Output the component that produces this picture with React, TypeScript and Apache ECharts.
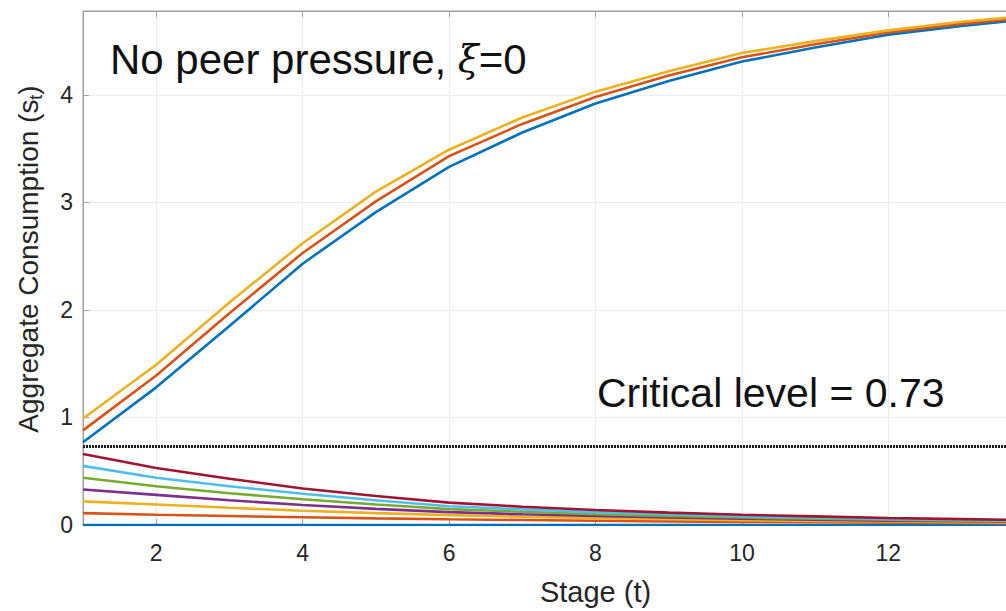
import React, { useEffect, useRef } from "react";
import * as echarts from "echarts";

const stages = [1, 2, 3, 4, 5, 6, 7, 8, 9, 10, 11, 12, 13, 14, 15];
const criticalLevel = 0.73;
const lastShownTick = 12;

const s0 = [0, 0, 0, 0, 0, 0, 0, 0, 0, 0, 0, 0, 0, 0, 0];
const s1 = [0.11, 0.095, 0.083, 0.072, 0.062, 0.053, 0.046, 0.04, 0.034, 0.029, 0.025, 0.021, 0.018, 0.016, 0.014];
const s2 = [0.22, 0.19, 0.16, 0.133, 0.11, 0.092, 0.077, 0.064, 0.054, 0.045, 0.038, 0.032, 0.027, 0.023, 0.02];
const s3 = [0.33, 0.28, 0.23, 0.186, 0.15, 0.12, 0.1, 0.085, 0.07, 0.058, 0.049, 0.041, 0.035, 0.03, 0.026];
const s4 = [0.44, 0.36, 0.295, 0.24, 0.19, 0.148, 0.123, 0.1, 0.085, 0.07, 0.058, 0.049, 0.041, 0.035, 0.03];
const s5 = [0.55, 0.44, 0.36, 0.29, 0.23, 0.175, 0.145, 0.12, 0.1, 0.082, 0.068, 0.057, 0.048, 0.04, 0.034];
const s6 = [0.66, 0.53, 0.43, 0.34, 0.27, 0.208, 0.17, 0.14, 0.115, 0.095, 0.08, 0.065, 0.055, 0.045, 0.038];
const s7 = [0.77, 1.28, 1.85, 2.43, 2.91, 3.33, 3.65, 3.92, 4.13, 4.31, 4.44, 4.56, 4.64, 4.71, 4.76];
const s8 = [0.88, 1.39, 1.97, 2.53, 3.01, 3.43, 3.73, 3.98, 4.18, 4.35, 4.47, 4.58, 4.66, 4.725, 4.77];
const s9 = [0.99, 1.49, 2.07, 2.62, 3.1, 3.49, 3.79, 4.03, 4.22, 4.39, 4.5, 4.6, 4.68, 4.74, 4.78];

const seriesValues = [s0, s1, s2, s3, s4, s5, s6, s7, s8, s9];
const colors = ["#0072BD", "#D95319", "#EDB120", "#7E2F8E", "#77AC30", "#4DBEEE", "#A2142F", "#0072BD", "#D95319", "#EDB120"];

export default function App() {
  const ref = useRef<HTMLDivElement>(null);
  useEffect(() => {
    if (!ref.current) return;
    const chart = echarts.init(ref.current, undefined, { renderer: "svg" });
    const lineSeries = seriesValues.map((vals, i) => ({
      type: "line",
      data: stages.map((s, j) => [s, vals[j]]),
      showSymbol: false,
      symbol: "none",
      lineStyle: { color: colors[i], width: 2.6 },
      z: 3,
    }));
    const critical = {
      type: "line",
      data: [
        [stages[0], criticalLevel],
        [stages[stages.length - 1], criticalLevel],
      ],
      symbol: "none",
      lineStyle: { color: "#1a1a1a", width: 2.8, type: [2, 1] },
      z: 4,
    };
    const axisColor = "#a0a0a0";
    const font = "Liberation Sans, Arial";
    chart.setOption({
      animation: false,
      backgroundColor: "#ffffff",
      grid: {
        left: 83,
        top: 11,
        right: -102,
        bottom: 86,
        show: true,
        borderColor: axisColor,
        borderWidth: 1,
        containLabel: false,
        outerBoundsMode: "none",
      },
      xAxis: [
        {
          type: "value",
          min: 1,
          max: 15,
          splitNumber: 6,
          name: "Stage (t)",
          nameLocation: "middle",
          nameGap: 52,
          nameTextStyle: { fontFamily: font, fontSize: 29, color: "#262626" },
          axisLine: { show: true, lineStyle: { color: axisColor } },
          axisTick: { show: true, inside: true, length: 6, lineStyle: { color: axisColor } },
          axisLabel: {
            showMinLabel: false,
            showMaxLabel: false,
            margin: 16,
            fontFamily: font,
            fontSize: 23,
            color: "#262626",
            formatter: (v: number) => (v > lastShownTick ? "" : String(v)),
          },
          splitLine: { show: true, lineStyle: { color: "#ebebeb", width: 1 } },
        },
        {
          type: "value",
          position: "top",
          min: 1,
          max: 15,
          splitNumber: 6,
          axisLine: { show: true, lineStyle: { color: axisColor } },
          axisTick: { show: true, inside: true, length: 6, lineStyle: { color: axisColor } },
          axisLabel: { show: false },
          splitLine: { show: false },
        },
      ],
      yAxis: {
        type: "value",
        min: 0,
        max: 4.78,
        interval: 1,
        name: "Aggregate Consumption (s{sub|t})",
        nameLocation: "middle",
        nameGap: 38,
        nameTextStyle: {
          fontFamily: font,
          fontSize: 28,
          color: "#262626",
          padding: [0, 0, 0, 18],
          rich: { sub: { fontFamily: font, fontSize: 18, color: "#262626", verticalAlign: "bottom", padding: [16, 0, 0, 0] } },
        },
        axisLine: { show: true, lineStyle: { color: axisColor } },
        axisTick: { show: true, inside: true, length: 6, lineStyle: { color: axisColor } },
        axisLabel: { showMaxLabel: false, margin: 10, fontFamily: font, fontSize: 23, color: "#262626" },
        splitLine: { show: true, lineStyle: { color: "#ebebeb", width: 1 } },
      },
      graphic: [
        {
          type: "text",
          left: 110,
          top: 38,
          z: 10,
          style: {
            text: "{a|No peer pressure, }{b|ξ}{a|=0}",
            rich: {
              a: { fontFamily: font, fontSize: 42, fill: "#111111" },
              b: { fontFamily: "DejaVu Serif", fontStyle: "italic", fontSize: 38, fill: "#111111" },
            },
          },
        },
        {
          type: "text",
          left: 597,
          top: 372,
          z: 10,
          style: {
            text: "Critical level = 0.73",
            fontFamily: font,
            fontSize: 41,
            fill: "#111111",
          },
        },
      ],
      series: [...lineSeries, critical],
    });
    return () => chart.dispose();
  }, []);
  return <div ref={ref} style={{ position: "fixed", left: 0, top: 0, width: 1006, height: 611 }} />;
}
